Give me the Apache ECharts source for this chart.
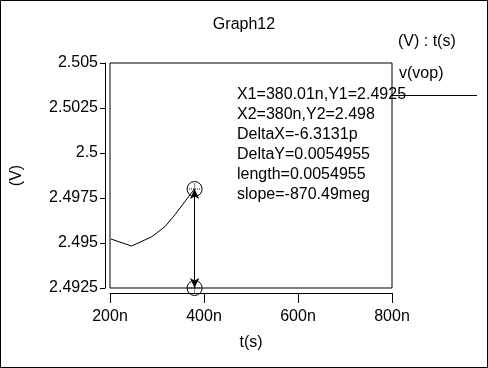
<!DOCTYPE html>
<html><head><meta charset="utf-8">
<script src="https://cdn.jsdelivr.net/npm/echarts@6/dist/echarts.min.js"></script>
<style>html,body{margin:0;padding:0;background:#fff}#c{width:488px;height:368px}</style>
</head><body><div id="c"></div>
<script>
// data (time in ns, voltage in V)
var tValues = [202, 246, 289, 317, 338, 370, 380];
var vValues = [2.49522, 2.49483, 2.49535, 2.49591, 2.49656, 2.49767, 2.498];
var cursorT = [380.01, 380];
var cursorV = [2.4925, 2.498];
var xTicks = [200, 400, 600, 800];
var yTicks = [2.4925, 2.495, 2.4975, 2.5, 2.5025, 2.505];
var annotations = ['X1=380.01n,Y1=2.4925', 'X2=380n,Y2=2.498', 'DeltaX=-6.3131p',
  'DeltaY=0.0054955', 'length=0.0054955', 'slope=-870.49meg'];

var F = 'Liberation Sans, Arial, sans-serif';
var chart = echarts.init(document.getElementById('c'), null, {renderer: 'canvas'});
var lineData = tValues.map(function (t, i) { return [t, vValues[i]]; });
var cursorData = cursorT.map(function (t, i) { return [t, cursorV[i]]; });

var graphics = [
  {type: 'rect', shape: {x: 0.5, y: 0.5, width: 487, height: 367}, style: {fill: 'none', stroke: '#000', lineWidth: 1}, z: 100},
  {type: 'text', left: 398, top: 34, style: {text: '(V) : t(s)', font: '16px ' + F, fill: '#000'}},
  {type: 'text', left: 399, top: 66, style: {text: 'v(vop)', font: '16px ' + F, fill: '#000'}},
  {type: 'line', shape: {x1: 392, y1: 95.5, x2: 477, y2: 95.5}, style: {stroke: '#000', lineWidth: 1}}
];
annotations.forEach(function (s, i) {
  graphics.push({type: 'text', left: 237, top: 87 + i * 20, z: 50,
    style: {text: s, font: '16px ' + F, fill: '#000'}});
});

chart.setOption({
  animation: false,
  backgroundColor: '#fff',
  title: {text: 'Graph12', left: 'center', top: 12,
    textStyle: {fontFamily: F, fontSize: 16, fontWeight: 'normal', color: '#000'}},
  grid: {left: 110, top: 63, width: 282, height: 225, show: true,
    borderColor: '#000', borderWidth: 1, backgroundColor: '#fff'},
  xAxis: {type: 'value', min: xTicks[0], max: xTicks[xTicks.length - 1], interval: 200,
    offset: 5, name: 't(s)', nameLocation: 'middle', nameGap: 42,
    nameTextStyle: {fontFamily: F, fontSize: 16, color: '#000'},
    axisLine: {show: true, onZero: false, lineStyle: {color: '#000', width: 1}},
    axisTick: {show: true, length: 10, inside: false, lineStyle: {color: '#000'}},
    axisLabel: {margin: 16, fontFamily: F, fontSize: 16, color: '#000',
      formatter: function (v) { return v + 'n'; }},
    splitLine: {show: false}},
  yAxis: {type: 'value', min: yTicks[0], max: yTicks[yTicks.length - 1], interval: 0.0025,
    offset: 5, name: '(V)', nameLocation: 'middle', nameGap: 80,
    nameTextStyle: {fontFamily: F, fontSize: 16, color: '#000'},
    axisLine: {show: true, onZero: false, lineStyle: {color: '#000', width: 1}},
    axisTick: {show: true, length: 5, lineStyle: {color: '#000'}},
    axisLabel: {margin: 7, fontFamily: F, fontSize: 16, color: '#000',
      formatter: function (v) { return String(parseFloat(v.toFixed(4))); }},
    splitLine: {show: false}},
  graphic: graphics,
  series: [
    {type: 'line', data: lineData, showSymbol: false, symbol: 'none',
      lineStyle: {color: '#000', width: 1}, clip: false},
    {type: 'line', data: cursorData, showSymbol: false, symbol: 'none', lineStyle: {width: 0, opacity: 0},
      markLine: {silent: true, symbol: ['arrow', 'arrow'], symbolSize: [7, 10],
        lineStyle: {color: '#000', width: 1, type: 'solid', opacity: 1}, label: {show: false},
        itemStyle: {color: '#000'},
        data: [[{coord: cursorData[0]}, {coord: cursorData[1]}]]}},
    {type: 'scatter', data: cursorData, symbol: 'circle', symbolSize: 15, clip: false,
      itemStyle: {color: 'rgba(0,0,0,0)', borderColor: '#000', borderWidth: 1, opacity: 1}, z: 5},
    {type: 'scatter', data: cursorData, symbol: 'path://M0,5L10,5M5,0L5,10', symbolSize: 11, clip: false,
      itemStyle: {color: 'rgba(0,0,0,0)', borderColor: '#000', borderWidth: 1, borderType: [1, 1], opacity: 1}, z: 5}
  ]
});
</script></body></html>
